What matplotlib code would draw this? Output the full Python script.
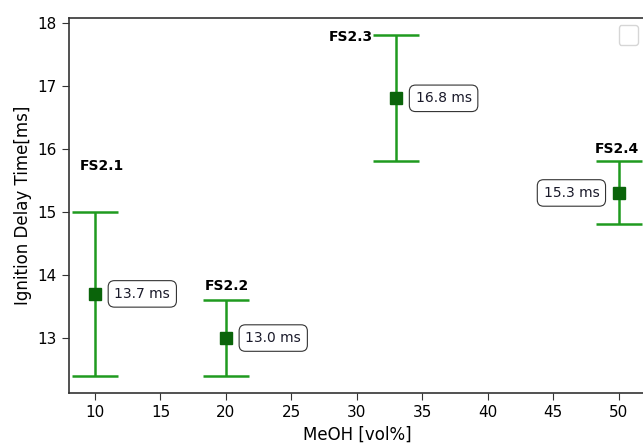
import matplotlib
matplotlib.use("Agg")
import matplotlib.pyplot as plt

names = ["FS2.1", "FS2.2", "FS2.3", "FS2.4"]
meoh = [10, 20, 33, 50]
ign = [13.7, 13.0, 16.8, 15.3]
err_low = [1.3, 0.6, 1.0, 0.5]
err_high = [1.3, 0.6, 1.0, 0.5]
value_labels = ["13.7 ms", "13.0 ms", "16.8 ms", "15.3 ms"]

# label offsets (points) relative to top of error bar
name_offsets = [(5, 33), (1, 10), (-33, -1), (-1, 9)]
box_offsets = [(14, 0), (14, 0), (14, 0), (-14, 0)]
box_ha = ["left", "left", "left", "right"]

fig = plt.figure(figsize=(6.43, 4.44), dpi=100)
ax = fig.add_axes([0.107, 0.115, 0.896, 0.844])

ax.errorbar(meoh, ign, yerr=[err_low, err_high], fmt="s", color="#0a6e0a",
            ecolor="#1f9a1f", elinewidth=1.8, capsize=16.5, capthick=1.8,
            markersize=8.5, markerfacecolor="#0a640a", markeredgecolor="#0a640a")

for i in range(len(names)):
    top = ign[i] + err_high[i]
    ax.annotate(names[i], (meoh[i], top), xytext=name_offsets[i],
                textcoords="offset points", ha="center", va="center",
                fontsize=10, fontweight="bold", color="black")
    ax.annotate(value_labels[i], (meoh[i], ign[i]), xytext=box_offsets[i],
                textcoords="offset points", ha=box_ha[i], va="center",
                fontsize=10, color="#1a1a2a",
                bbox=dict(boxstyle="round,pad=0.45", fc="white", ec="#333333", lw=0.8))

ax.set_xticks([10, 15, 20, 25, 30, 35, 40, 45, 50])
ax.set_yticks([13, 14, 15, 16, 17, 18])
ax.tick_params(labelsize=11, length=5, color="#333333")
for s in ax.spines.values():
    s.set_color("#333333")
    s.set_linewidth(1.2)
ax.set_xlabel("MeOH [vol%]", fontsize=12)
ax.set_ylabel("Ignition Delay Time[ms]", fontsize=12)
leg = ax.legend(handles=[], loc="upper right", borderpad=0.7)

fig.savefig("out.png", dpi=100)
